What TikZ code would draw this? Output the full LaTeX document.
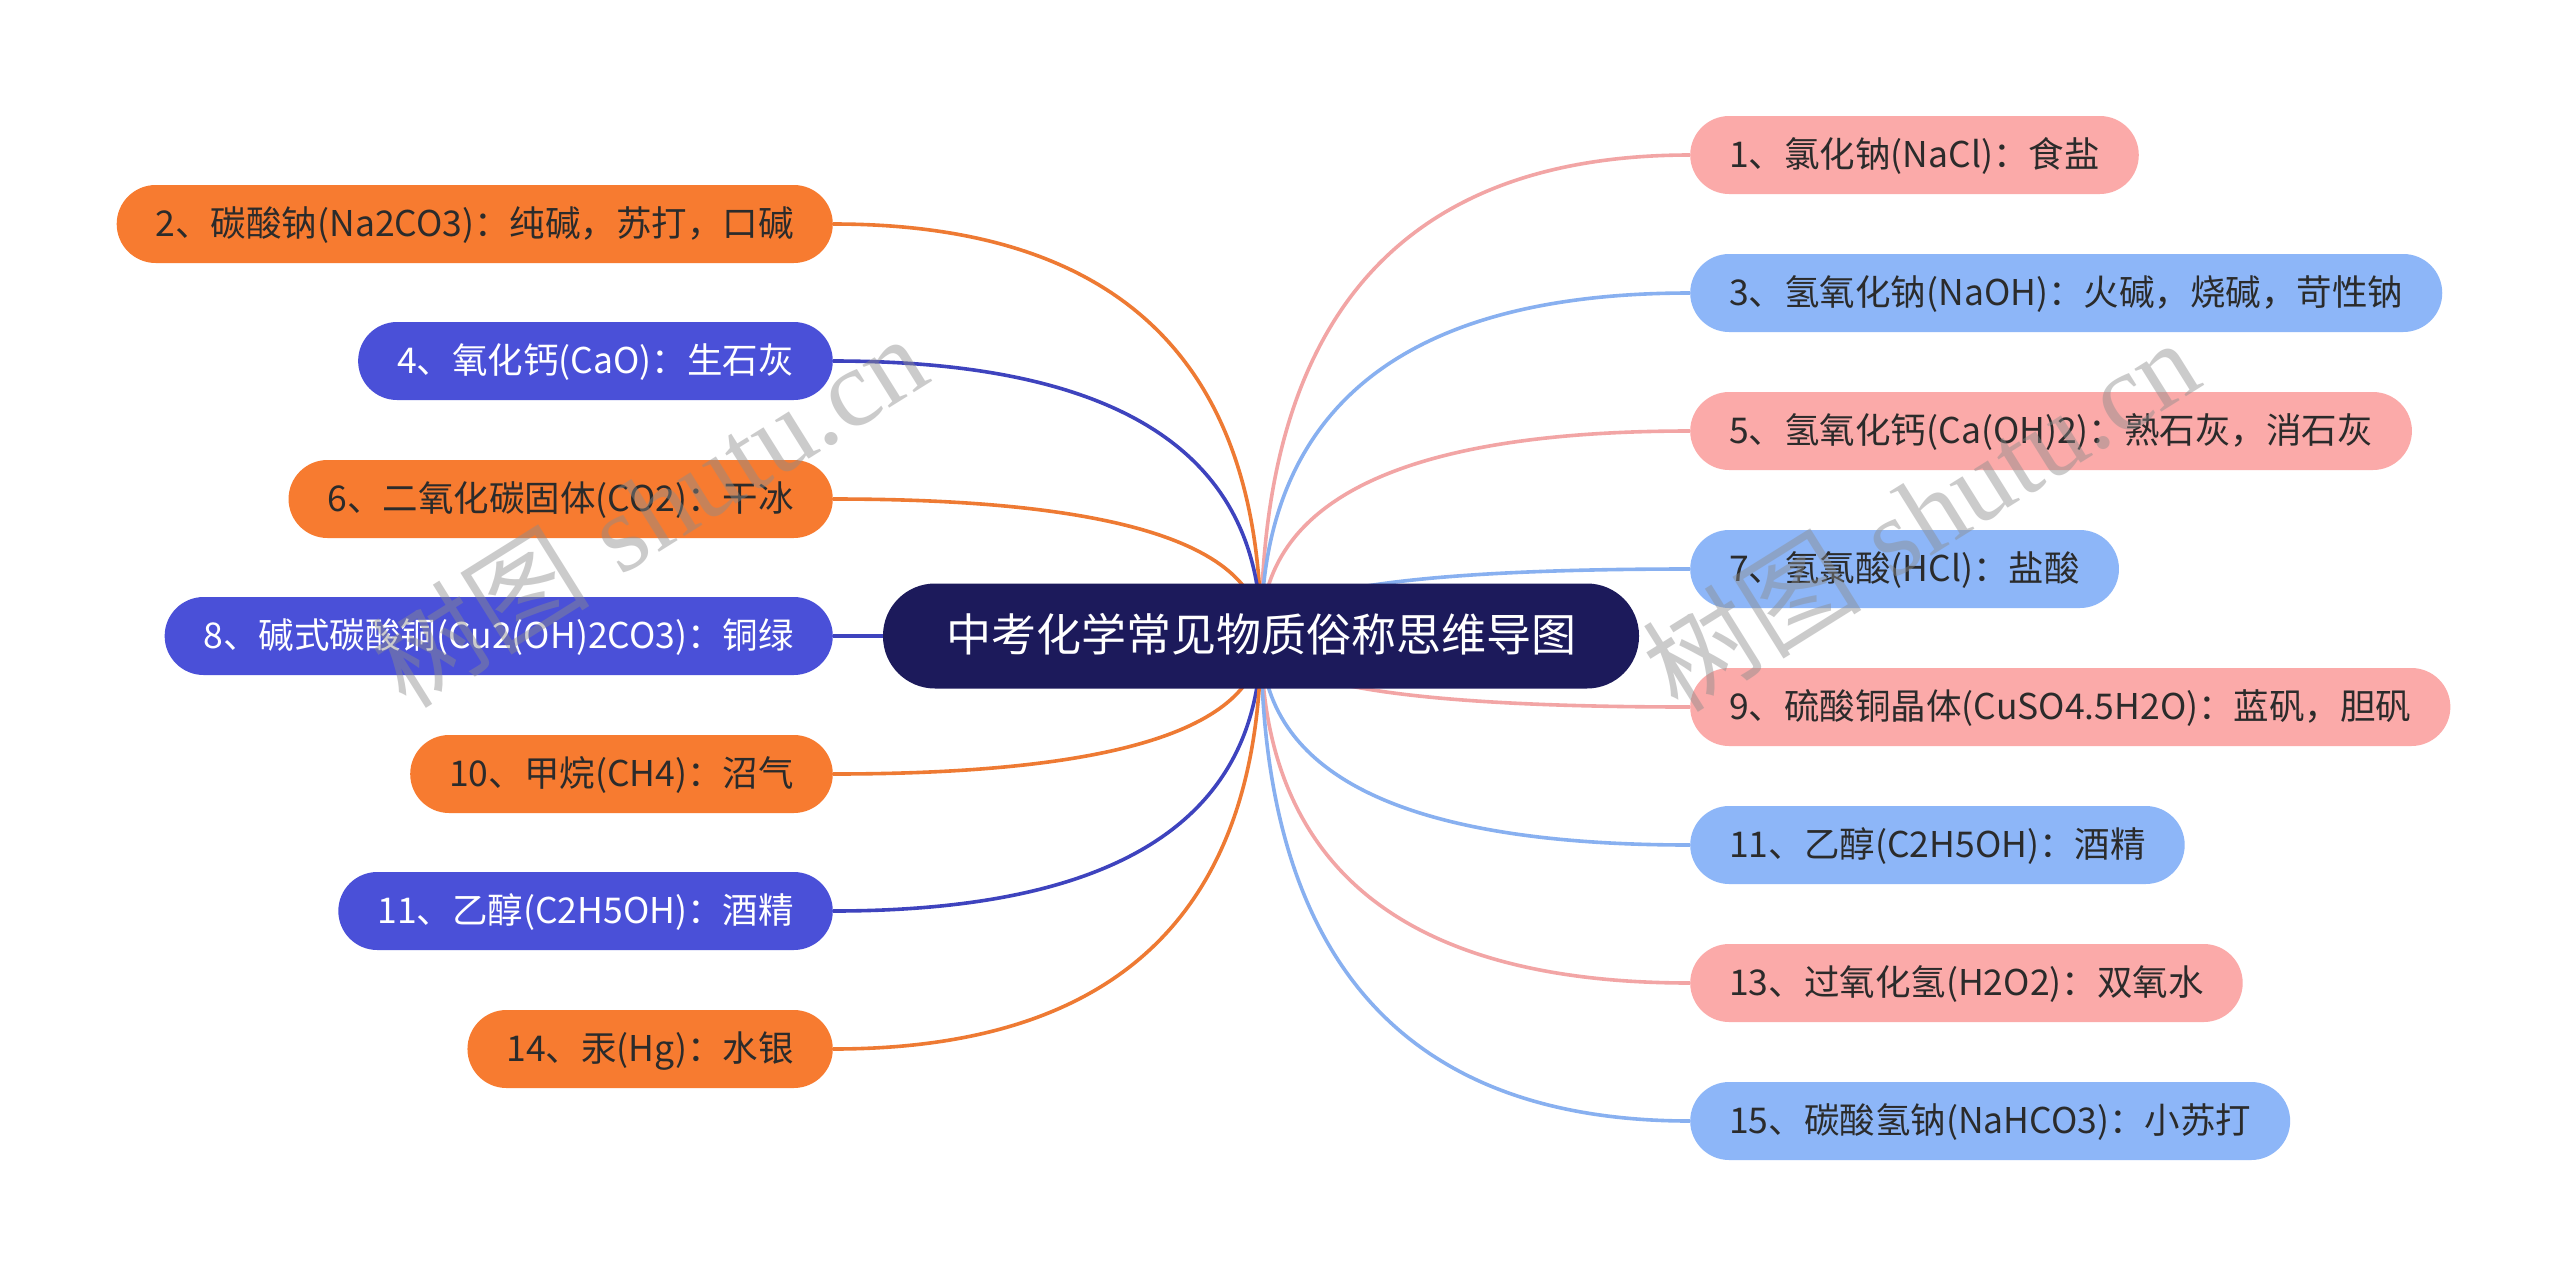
\documentclass[tikz,border=0pt]{standalone}
\usepackage{fontspec}
\newfontfamily\cjk{Noto Sans CJK SC}
\newfontfamily\wmserif{Liberation Serif}
\usetikzlibrary{calc}
\pgfdeclarelayer{bg}
\pgfsetlayers{bg,main}
\definecolor{pinkf}{HTML}{FBAAA9}
\definecolor{bluef}{HTML}{8DB6F8}
\definecolor{orangef}{HTML}{F77B30}
\definecolor{violetf}{HTML}{4A50D8}
\definecolor{navy}{HTML}{1C1A5B}
\definecolor{txt}{HTML}{2B2B2B}
\definecolor{pinkl}{HTML}{F2A5A5}
\definecolor{bluel}{HTML}{88B0F0}
\definecolor{orangel}{HTML}{EE7A33}
\definecolor{violetl}{HTML}{3E43BE}
\tikzset{
  leaf/.style={rounded corners=39pt, minimum height=78pt, inner xsep=39pt, inner ysep=0pt,
    text height=30pt, text depth=6pt, font=\cjk\fontsize{35.5}{40}\selectfont},
  rleaf/.style={leaf, anchor=west},
  lleaf/.style={leaf, anchor=east},
  pinkbox/.style={fill=pinkf, text=txt},
  bluebox/.style={fill=bluef, text=txt},
  orangebox/.style={fill=orangef, text=txt},
  violetbox/.style={fill=violetf, text=white},
  rootbox/.style={fill=navy, text=white, rounded corners=52pt, minimum height=105pt,
    minimum width=756pt, inner ysep=0pt, text height=38pt, text depth=8pt,
    font=\cjk\fontsize{45}{50}\selectfont},
  link/.style={line width=3.6pt},
  wm/.style={text=black!45, opacity=0.45, rotate=32, font=\fontsize{110}{120}\selectfont}
}
\newcommand\linkR[2]{\draw[link,#2] (C.center) .. controls ($(C.center)!0.6667!(C.center|-#1.west)$) and ($(#1.west)!0.6667!(C.center|-#1.west)$) .. (#1.west);}
\newcommand\linkL[2]{\draw[link,#2] (C.center) .. controls ($(C.center)!0.6667!(C.center|-#1.east)$) and ($(#1.east)!0.6667!(C.center|-#1.east)$) .. (#1.east);}
\begin{document}
\begin{tikzpicture}[x=1pt,y=-1pt]
\useasboundingbox (0,0) rectangle (2560,1275);

\node[rootbox] (C) at (1261,636) {中考化学常见物质俗称思维导图};

% right side
\node[rleaf,pinkbox] (r1) at (1690,155) {1、氯化钠(NaCl)：食盐};
\node[rleaf,bluebox] (r3) at (1690,293) {3、氢氧化钠(NaOH)：火碱，烧碱，苛性钠};
\node[rleaf,pinkbox] (r5) at (1690,431) {5、氢氧化钙(Ca(OH)2)：熟石灰，消石灰};
\node[rleaf,bluebox] (r7) at (1690,569) {7、氢氯酸(HCl)：盐酸};
\node[rleaf,pinkbox] (r9) at (1690,707) {9、硫酸铜晶体(CuSO4.5H2O)：蓝矾，胆矾};
\node[rleaf,bluebox] (r11) at (1690,845) {11、乙醇(C2H5OH)：酒精};
\node[rleaf,pinkbox] (r13) at (1690,983) {13、过氧化氢(H2O2)：双氧水};
\node[rleaf,bluebox] (r15) at (1690,1121) {15、碳酸氢钠(NaHCO3)：小苏打};

% left side
\node[lleaf,orangebox] (l2) at (833,224) {2、碳酸钠(Na2CO3)：纯碱，苏打，口碱};
\node[lleaf,violetbox] (l4) at (833,361) {4、氧化钙(CaO)：生石灰};
\node[lleaf,orangebox] (l6) at (833,499) {6、二氧化碳固体(CO2)：干冰};
\node[lleaf,violetbox] (l8) at (833,636) {8、碱式碳酸铜(Cu2(OH)2CO3)：铜绿};
\node[lleaf,orangebox] (l10) at (833,774) {10、甲烷(CH4)：沼气};
\node[lleaf,violetbox] (l11) at (833,911) {11、乙醇(C2H5OH)：酒精};
\node[lleaf,orangebox] (l14) at (833,1049) {14、汞(Hg)：水银};

\begin{pgfonlayer}{bg}
\fill[white] (0,0) rectangle (2560,1275);
\linkR{r1}{pinkl}
\linkR{r3}{bluel}
\linkR{r5}{pinkl}
\linkR{r7}{bluel}
\linkR{r9}{pinkl}
\linkR{r11}{bluel}
\linkR{r13}{pinkl}
\linkR{r15}{bluel}
\linkL{l2}{orangel}
\linkL{l4}{violetl}
\linkL{l6}{orangel}
\linkL{l8}{violetl}
\linkL{l10}{orangel}
\linkL{l11}{violetl}
\linkL{l14}{orangel}
\end{pgfonlayer}

% watermarks
\node[wm] (w1) at (648,510) {{\cjk 树图} {\wmserif shutu.cn}};
\node[wm] (w2) at (1920,514) {{\cjk 树图} {\wmserif shutu.cn}};
\end{tikzpicture}
\end{document}
